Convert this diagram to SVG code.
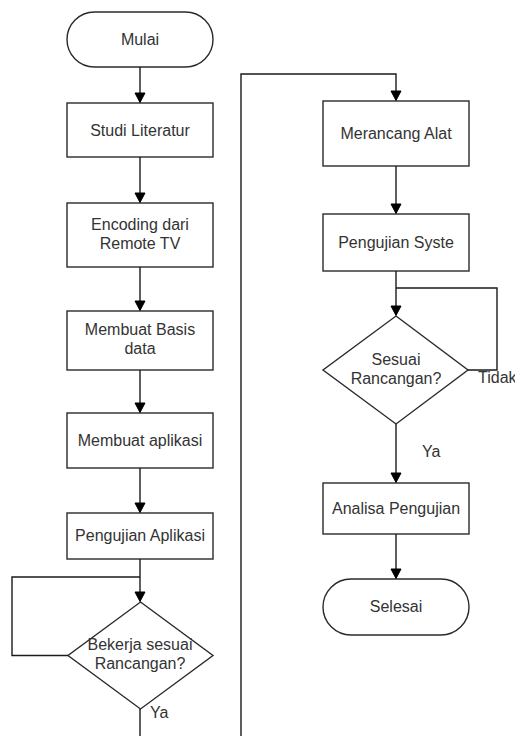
<svg xmlns="http://www.w3.org/2000/svg" width="515" height="736" viewBox="0 0 515 736">
<style>
.box{fill:#fff;stroke:#2a2a2a;stroke-width:1.4}
.ln{fill:none;stroke:#1a1a1a;stroke-width:1.4}
.ah{fill:#000;stroke:#000;stroke-width:1}
text{font-family:"Liberation Sans",Arial,sans-serif;font-size:16px;fill:#333;text-anchor:middle}
.lbl{text-anchor:start}
</style>
<rect width="515" height="736" fill="#fff"/>
<g id="mulai"><rect class="box" x="67" y="12" width="146" height="55" rx="27.5" ry="27.5"/><text x="140" y="44.5">Mulai</text></g>
<g id="studi"><rect class="box" x="67" y="103" width="146" height="54"/><text x="140" y="136">Studi Literatur</text></g>
<g id="encoding"><rect class="box" x="67" y="203" width="146" height="64"/><text x="140" y="230">Encoding dari</text><text x="140" y="249">Remote TV</text></g>
<g id="basis"><rect class="box" x="67" y="311" width="146" height="59"/><text x="140" y="335">Membuat Basis</text><text x="140" y="354">data</text></g>
<g id="aplikasi"><rect class="box" x="67" y="413" width="146" height="55"/><text x="140" y="446">Membuat aplikasi</text></g>
<g id="pengujian-aplikasi"><rect class="box" x="67" y="513" width="146" height="46"/><text x="140" y="541">Pengujian Aplikasi</text></g>
<g id="bekerja"><path class="box" d="M140.5,602 L213,655.5 L140.5,709 L68,655.5 Z"/><text x="140" y="650">Bekerja sesuai</text><text x="140" y="669">Rancangan?</text></g>
<g id="merancang"><rect class="box" x="323" y="101" width="146" height="65"/><text x="396" y="139">Merancang Alat</text></g>
<g id="pengujian-syste"><rect class="box" x="323" y="214" width="146" height="57"/><text x="396" y="248">Pengujian Syste</text></g>
<g id="sesuai"><path class="box" d="M396,316 L468,370 L396,424 L323,370 Z"/><text x="396" y="365">Sesuai</text><text x="396" y="384">Rancangan?</text></g>
<g id="analisa"><rect class="box" x="323" y="483" width="146" height="51"/><text x="396" y="514">Analisa Pengujian</text></g>
<g id="selesai"><rect class="box" x="323" y="579" width="146" height="56" rx="28" ry="28"/><text x="396" y="612">Selesai</text></g>
<g id="connectors">
<path class="ln" d="M140,67 V95"/><polygon class="ah" points="135,93 145,93 140,102.5"/>
<path class="ln" d="M140,157 V195"/><polygon class="ah" points="135,193 145,193 140,202.5"/>
<path class="ln" d="M140,267 V303"/><polygon class="ah" points="135,301 145,301 140,310.5"/>
<path class="ln" d="M140,370 V405"/><polygon class="ah" points="135,403 145,403 140,412.5"/>
<path class="ln" d="M140,468 V505"/><polygon class="ah" points="135,503 145,503 140,512.5"/>
<path class="ln" d="M140,559 V594"/><polygon class="ah" points="135,592 145,592 140,601.5"/>
<path class="ln" d="M68,655.5 H12 V577 H140"/>
<path class="ln" d="M140,709 V736"/>
<path class="ln" d="M241,736 V74 H396 V93"/><polygon class="ah" points="391,91 401,91 396,100.5"/>
<path class="ln" d="M396,166 V206"/><polygon class="ah" points="391,204 401,204 396,213.5"/>
<path class="ln" d="M396,271 V308"/><polygon class="ah" points="391,306 401,306 396,315.5"/>
<path class="ln" d="M468,370 H497 V288 H396"/>
<path class="ln" d="M396,424 V475"/><polygon class="ah" points="391,473 401,473 396,482.5"/>
<path class="ln" d="M396,534 V571"/><polygon class="ah" points="391,569 401,569 396,578.5"/>
<text class="lbl" x="150" y="718">Ya</text>
<text class="lbl" x="422" y="457">Ya</text>
<text class="lbl" x="478" y="383">Tidak</text>
</g>
</svg>
